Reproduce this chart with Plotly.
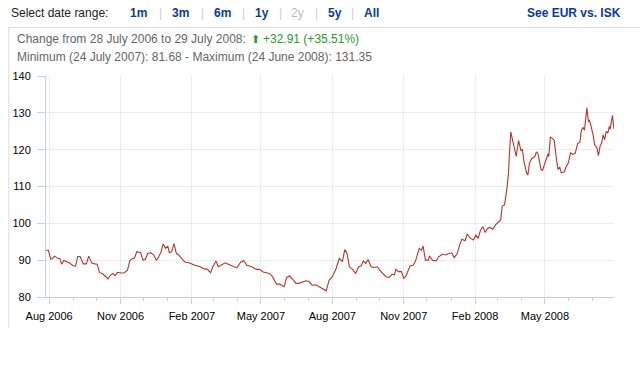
import plotly.graph_objects as go

# ---------------- data ----------------
dates = [
    "2006-07-28", "2006-07-31", "2006-08-03", "2006-08-05", "2006-08-08", "2006-08-12", "2006-08-15",
    "2006-08-17", "2006-08-20", "2006-08-23", "2006-08-27", "2006-09-01", "2006-09-04", "2006-09-07",
    "2006-09-10", "2006-09-14", "2006-09-18", "2006-09-21", "2006-09-25", "2006-09-29", "2006-10-02",
    "2006-10-05", "2006-10-09", "2006-10-12", "2006-10-16", "2006-10-19", "2006-10-22", "2006-10-25",
    "2006-10-28", "2006-11-02", "2006-11-06", "2006-11-10", "2006-11-13", "2006-11-16", "2006-11-19",
    "2006-11-22", "2006-11-25", "2006-11-27", "2006-11-30", "2006-12-03", "2006-12-06", "2006-12-10",
    "2006-12-14", "2006-12-17", "2006-12-19", "2006-12-23", "2006-12-26", "2006-12-29", "2007-01-01",
    "2007-01-03", "2007-01-06", "2007-01-09", "2007-01-12", "2007-01-15", "2007-01-19", "2007-01-23",
    "2007-01-28", "2007-02-01", "2007-02-05", "2007-02-12", "2007-02-16", "2007-02-21", "2007-02-25",
    "2007-02-28", "2007-03-04", "2007-03-07", "2007-03-11", "2007-03-16", "2007-03-20", "2007-03-26",
    "2007-03-31", "2007-04-05", "2007-04-09", "2007-04-13", "2007-04-19", "2007-04-25", "2007-04-29",
    "2007-05-04", "2007-05-08", "2007-05-12", "2007-05-16", "2007-05-21", "2007-05-25", "2007-05-31",
    "2007-06-03", "2007-06-07", "2007-06-11", "2007-06-15", "2007-06-19", "2007-06-24", "2007-06-28",
    "2007-07-02", "2007-07-06", "2007-07-11", "2007-07-15", "2007-07-19", "2007-07-24", "2007-07-28",
    "2007-08-01", "2007-08-06", "2007-08-10", "2007-08-14", "2007-08-17", "2007-08-20", "2007-08-23",
    "2007-08-27", "2007-08-31", "2007-09-04", "2007-09-07", "2007-09-10", "2007-09-13", "2007-09-16",
    "2007-09-20", "2007-09-24", "2007-09-28", "2007-10-01", "2007-10-05", "2007-10-09", "2007-10-13",
    "2007-10-17", "2007-10-20", "2007-10-22", "2007-10-25", "2007-10-29", "2007-11-01", "2007-11-04",
    "2007-11-09", "2007-11-13", "2007-11-16", "2007-11-21", "2007-11-24", "2007-11-26", "2007-11-29",
    "2007-12-03", "2007-12-04", "2007-12-08", "2007-12-13", "2007-12-16", "2007-12-21", "2007-12-25",
    "2007-12-29", "2008-01-02", "2008-01-05", "2008-01-09", "2008-01-12", "2008-01-15", "2008-01-19",
    "2008-01-22", "2008-01-26", "2008-01-30", "2008-02-02", "2008-02-05", "2008-02-08", "2008-02-11",
    "2008-02-14", "2008-02-17", "2008-02-20", "2008-02-24", "2008-02-27", "2008-03-02", "2008-03-05",
    "2008-03-07", "2008-03-10", "2008-03-13", "2008-03-15", "2008-03-16", "2008-03-18", "2008-03-21",
    "2008-03-23", "2008-03-25", "2008-03-28", "2008-03-31", "2008-04-02", "2008-04-04", "2008-04-07",
    "2008-04-09", "2008-04-11", "2008-04-14", "2008-04-18", "2008-04-20", "2008-04-22", "2008-04-24",
    "2008-04-26", "2008-04-28", "2008-05-01", "2008-05-05", "2008-05-06", "2008-05-08", "2008-05-11",
    "2008-05-13", "2008-05-16", "2008-05-18", "2008-05-20", "2008-05-22", "2008-05-26", "2008-05-28",
    "2008-05-31", "2008-06-03", "2008-06-06", "2008-06-09", "2008-06-12", "2008-06-15", "2008-06-17",
    "2008-06-19", "2008-06-21", "2008-06-24", "2008-06-26", "2008-06-27", "2008-06-29", "2008-07-02",
    "2008-07-04", "2008-07-07", "2008-07-09", "2008-07-11", "2008-07-13", "2008-07-15", "2008-07-17",
    "2008-07-19", "2008-07-21", "2008-07-23", "2008-07-24", "2008-07-27", "2008-07-29",
]

rates = [
    92.68, 92.7, 90.3, 90.4, 91.1, 90.5, 90.4,
    88.9, 89.9, 89.7, 89.3, 88.5, 88.4, 91.0,
    91.0, 89.0, 89.0, 91.1, 89.2, 89.0, 88.9,
    86.6, 86.3, 85.7, 84.9, 85.9, 86.4, 85.8,
    86.7, 86.5, 86.6, 87.3, 89.8, 90.4, 90.6,
    92.3, 92.0, 92.0, 90.0, 90.2, 91.8, 92.0,
    91.4, 90.0, 90.4, 92.1, 94.4, 93.2, 93.8,
    92.0, 92.3, 94.5, 91.8, 91.4, 90.4, 89.5,
    89.3, 88.9, 88.6, 88.2, 87.7, 87.5, 86.6,
    88.2, 89.8, 88.2, 88.6, 89.3, 88.9, 88.4,
    87.9, 89.5, 89.8, 88.6, 88.2, 87.5, 87.5,
    86.8, 86.6, 86.4, 85.5, 83.5, 83.5, 82.8,
    85.3, 85.7, 84.8, 83.7, 83.7, 84.2, 84.4,
    84.2, 83.2, 83.3, 82.8, 82.3, 81.68, 84.6,
    85.5, 87.8, 90.5, 89.6, 92.9, 91.8, 88.2,
    87.5, 86.4, 88.2, 88.4, 89.8, 89.1, 90.2,
    88.2, 88.0, 88.2, 87.3, 86.4, 85.5, 85.3,
    86.2, 86.0, 87.5, 86.9, 86.9, 85.1, 85.7,
    88.4, 88.6, 89.6, 93.2, 92.7, 93.8, 90.0,
    90.0, 91.2, 90.0, 89.8, 90.9, 91.6, 91.4,
    91.8, 92.0, 90.7, 91.8, 94.1, 95.7, 95.3,
    97.1, 95.9, 95.5, 96.8, 95.9, 98.2, 99.1,
    97.5, 98.6, 98.9, 98.4, 99.5, 100.4, 101.0,
    104.7, 105.0, 109.5, 113.5, 118.0, 124.8, 121.9,
    119.8, 118.2, 122.5, 119.8, 120.0, 116.7, 114.0,
    113.1, 116.3, 117.6, 118.1, 119.4, 118.9, 116.4,
    114.6, 114.4, 116.3, 118.9, 118.1, 123.4, 123.0,
    122.5, 117.1, 114.6, 115.3, 113.7, 114.0, 115.2,
    116.3, 119.1, 118.7, 119.0, 121.6, 122.1, 125.3,
    126.0, 125.3, 131.35, 127.6, 128.1, 126.7, 124.0,
    121.3, 120.5, 118.4, 120.9, 121.8, 124.0, 122.7,
    125.0, 124.5, 126.3, 125.6, 129.3, 125.59,
]

y_ticks = [80, 90, 100, 110, 120, 130, 140]
range_buttons = ["1m", "3m", "6m", "1y", "2y", "5y", "All"]
range_button_x = [134.7, 176.9, 218.6, 258.8, 294.9, 332.2, 369.4]
separator_x = [156.3, 198.4, 240.0, 277.6, 314.3, 350.2]

header_label = "Select date range:"
compare_link = "See EUR vs. ISK"
change_text = "Change from 28 July 2006 to 29 July 2008:"
change_value = "+32.91 (+35.51%)"
minmax_text = "Minimum (24 July 2007): 81.68 - Maximum (24 June 2008): 131.35"

# ---------------- layout geometry ----------------
W, H = 640, 384
L, R, T, B = 41, 26, 76, 87
PW, PH = W - L - R, H - T - B

def px(x):
    return (x - L) / PW

def py(y):
    return (H - B - y) / PH

FONT = "Liberation Sans, Arial, sans-serif"
AXIS_COL = "#c3d1e2"
GRID_COL = "#ececec"
BLUE = "#0b3a96"

fig = go.Figure()
fig.add_trace(go.Scatter(
    x=dates, y=rates, mode="lines",
    line=dict(color="#b3362c", width=1.1),
    hoverinfo="x+y", showlegend=False,
))

annotations = []

def txt(x, y, s, color="#333333", size=12, anchor="left", bold=False, family=FONT):
    annotations.append(dict(
        x=px(x), y=py(y), xref="paper", yref="paper",
        text=("<b>%s</b>" % s) if bold else s,
        showarrow=False, xanchor=anchor, yanchor="middle",
        font=dict(family=family, size=size, color=color),
    ))

txt(4, 13.5, header_label, color="#222222")
for lab, bx in zip(range_buttons, range_button_x):
    txt(bx, 13.5, lab, color=("#bbbbbb" if lab == "2y" else BLUE), anchor="center", bold=(lab != "2y"))
for sx in separator_x:
    txt(sx, 13.5, "|", color="#cccccc", anchor="center")
txt(623, 13.5, compare_link, color=BLUE, anchor="right", bold=True)

txt(10, 39.5, change_text, color="#666666")
txt(246, 39.5, "\u2b06", color="#2a9a2a", size=11, anchor="left", family="DejaVu Sans")
txt(258, 39.5, change_value, color="#2a9a2a")
txt(10, 57, minmax_text, color="#666666")

shapes = [
    dict(type="line", xref="paper", yref="paper", x0=px(3), x1=px(640), y0=py(27.5), y1=py(27.5),
         line=dict(color="#dddddd", width=1)),
    dict(type="line", xref="paper", yref="paper", x0=px(3.5), x1=px(3.5), y0=py(27.5), y1=py(328),
         line=dict(color="#dddddd", width=1)),
]

fig.update_layout(
    width=W, height=H,
    margin=dict(l=L, r=R, t=T, b=B, pad=0),
    paper_bgcolor="white", plot_bgcolor="white",
    font=dict(family=FONT, size=11, color="#000000"),
    annotations=annotations, shapes=shapes,
    showlegend=False,
    xaxis=dict(
        type="date",
        range=[dates[0], dates[-1]],
        tick0="2006-08-01", dtick="M3", tickformat="%b %Y",
        ticks="outside", ticklen=6, tickcolor=AXIS_COL, tickwidth=1,
        showgrid=True, gridcolor=GRID_COL, gridwidth=1,
        showline=True, linecolor=AXIS_COL, linewidth=1,
        tickfont=dict(size=11, color="#000000", family=FONT),
        ticklabelstandoff=3,
        minor=dict(tick0="2006-08-01", dtick="M1", ticks="outside", ticklen=3,
                   tickcolor=AXIS_COL, showgrid=False),
        zeroline=False, fixedrange=True,
    ),
    yaxis=dict(
        range=[80, 140], tickvals=y_ticks,
        ticks="outside", ticklen=8, tickcolor=AXIS_COL, tickwidth=1,
        showgrid=True, gridcolor=GRID_COL, gridwidth=1,
        showline=True, linecolor=AXIS_COL, linewidth=1,
        tickfont=dict(size=11, color="#000000", family=FONT),
        ticklabelstandoff=4,
        zeroline=False, fixedrange=True,
    ),
)

fig.write_html(
    "out.html",
    config={"displayModeBar": False},
    post_script="document.body.style.margin='0';document.body.style.overflow='hidden';",
)
